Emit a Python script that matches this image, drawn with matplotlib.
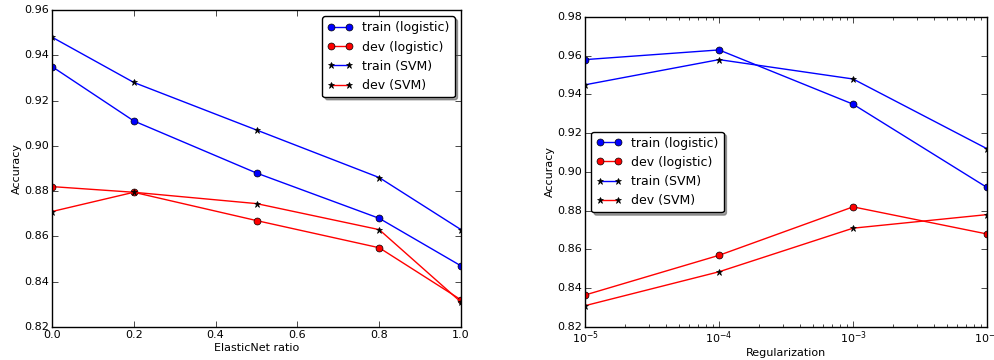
import matplotlib
matplotlib.use("Agg")
import matplotlib.pyplot as plt

plt.style.use("classic")

# ElasticNet ratio sweep
ratios = [0.0, 0.2, 0.5, 0.8, 1.0]
train_log_r = [0.935, 0.911, 0.888, 0.868, 0.847]
dev_log_r = [0.882, 0.8795, 0.867, 0.855, 0.832]
train_svm_r = [0.948, 0.928, 0.907, 0.886, 0.863]
dev_svm_r = [0.871, 0.8795, 0.8745, 0.863, 0.831]

# Regularization sweep
regs = [1e-5, 1e-4, 1e-3, 1e-2]
train_log_c = [0.958, 0.963, 0.935, 0.892]
dev_log_c = [0.8365, 0.857, 0.882, 0.868]
train_svm_c = [0.945, 0.958, 0.948, 0.912]
dev_svm_c = [0.831, 0.8485, 0.871, 0.878]

labels = ["train (logistic)", "dev (logistic)", "train (SVM)", "dev (SVM)"]

fig = plt.figure(figsize=(9.95, 3.6), dpi=100, facecolor="white")
ax1 = fig.add_axes([0.0523, 0.0917, 0.4110, 0.8805])
ax2 = fig.add_axes([0.588, 0.0917, 0.404, 0.8611])


def tracer(ax, x, tl, dl, ts, ds):
    ax.plot(x, tl, "b-o", markersize=5, label=labels[0])
    ax.plot(x, dl, "r-o", markersize=5, label=labels[1])
    ax.plot(x, ts, "b-*", markerfacecolor="k", markeredgecolor="k", markersize=5, label=labels[2])
    ax.plot(x, ds, "r-*", markerfacecolor="k", markeredgecolor="k", markersize=5, label=labels[3])
    ax.set_ylabel("Accuracy", fontsize=8, labelpad=2)
    ax.tick_params(labelsize=8, pad=2)
    ax.tick_params(which="minor", pad=2)


tracer(ax1, ratios, train_log_r, dev_log_r, train_svm_r, dev_svm_r)
ax1.set_xlim(0, 1)
ax1.set_ylim(0.82, 0.96)
ax1.set_xlabel("ElasticNet ratio", fontsize=8, labelpad=2)
ax1.legend(loc="upper right", fontsize=9, fancybox=True, shadow=True, numpoints=2)

tracer(ax2, regs, train_log_c, dev_log_c, train_svm_c, dev_svm_c)
ax2.set_xscale("log")
ax2.set_xlim(1e-5, 1e-2)
ax2.set_ylim(0.82, 0.98)
ax2.set_xlabel("Regularization", fontsize=8, labelpad=1)
ax2.legend(loc="center left", fontsize=9, fancybox=True, shadow=True, numpoints=2)

fig.savefig("out.png", dpi=100, facecolor="white")
